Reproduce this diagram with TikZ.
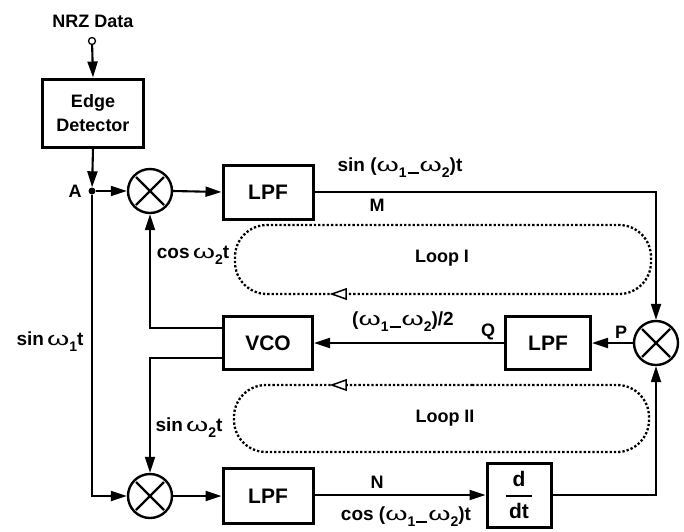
\documentclass[tikz,border=0pt]{standalone}
\usepackage{fontspec}
\usepackage{amsmath}
\usepackage{graphicx}
\setmainfont{Liberation Sans}
\usetikzlibrary{arrows.meta,calc}
\newcommand\wo{\scalebox{1.5}[1]{\mdseries ω}}
\newcommand\sbs[1]{\raisebox{-6pt}{\fontsize{14}{14}\selectfont\bfseries #1}}
\newcommand\mn{\hspace{1pt}\rule[3.5pt]{11pt}{2.2pt}\hspace{1pt}}
\begin{document}
\begin{tikzpicture}[x=1pt,y=-1pt,
  txt/.style={font=\fontsize{19}{22}\selectfont\bfseries,inner sep=0pt},
  let/.style={font=\fontsize{18}{20}\selectfont\bfseries,inner sep=0pt},
  box/.style={draw,line width=3pt,inner sep=0pt,align=center,font=\fontsize{21}{24}\selectfont\bfseries},
  mixer/.style={draw,circle,line width=2.4pt,minimum size=44pt,inner sep=0pt,
    path picture={\draw[line width=2.2pt]
      ($(path picture bounding box.center)+(-14pt,-14pt)$) -- ($(path picture bounding box.center)+(14pt,14pt)$)
      ($(path picture bounding box.center)+(-14pt,14pt)$) -- ($(path picture bounding box.center)+(14pt,-14pt)$);}},
  wire/.style={line width=2.1pt},
  arr/.style={wire,-{Triangle[length=16pt,width=10pt]}},
  loopline/.style={line width=2.3pt,dash pattern=on 2.3pt off 2pt,rounded corners=32pt},
  looparrow/.style={draw,fill=white,line width=1.5pt},
]
\useasboundingbox (0,0) rectangle (684,531);

% nodes
\node[draw,circle,line width=1.3pt,minimum size=7pt,inner sep=0pt] (nrz) at (92,41) {};
\node[let] (nrzlbl) at (93,21) {NRZ Data};
\node[box,minimum width=101pt,minimum height=68pt,font=\fontsize{18}{24}\selectfont\bfseries] (ed) at (93,113) {Edge\\Detector};
\node[circle,fill,minimum size=7pt,inner sep=0pt] (A) at (92,191) {};
\node[let] (Albl) at (75,191) {A};
\node[mixer] (m1) at (150,191) {};
\node[box,minimum width=90pt,minimum height=54pt] (lpf1) at (268,192) {LPF};
\node[mixer] (m2) at (656,343) {};
\node[box,minimum width=85pt,minimum height=53pt] (lpf2) at (548,343) {LPF};
\node[box,minimum width=89pt,minimum height=53pt] (vco) at (268,343) {VCO};
\node[mixer] (m3) at (150,496) {};
\node[box,minimum width=90pt,minimum height=55pt] (lpf3) at (268,496) {LPF};
\node[box,minimum width=64pt,minimum height=64pt] (ddt) at (519,495) {$\genfrac{}{}{2pt}{0}{\mbox{\bfseries d}}{\mbox{\bfseries\,dt\,}}$};

\coordinate (c1) at (656,192);
\coordinate (v1) at (223,328);
\coordinate (v1b) at (150,328);
\coordinate (v2) at (223,358);
\coordinate (v2b) at (150,358);
\coordinate (a2) at (92,496);
\coordinate (d2) at (656,495);

% connectors
\draw[arr] (nrz) -- (ed.north);
\draw[arr] (ed.south) -- (A);
\draw[arr] (A) -- (m1.west);
\draw[arr] (m1.east) -- (lpf1.west);
\draw[arr] (lpf1.east) -- (c1) -- (m2.north);
\draw[arr] (m2.west) -- (lpf2.east);
\draw[arr] (lpf2.west) -- (vco.east);
\draw[arr] (v1) -- (v1b) -- (m1.south);
\draw[arr] (v2) -- (v2b) -- (m3.north);
\draw[arr] (A) -- (a2) -- (m3.west);
\draw[arr] (m3.east) -- (lpf3.west);
\draw[arr] (lpf3.east |- ddt.west) -- (ddt.west);
\draw[arr] (ddt.east) -- (d2) -- (m2.south);

% loops
\draw[loopline] (440,225) -- (651,225) -- (651,294) -- (235,294) -- (235,225) -- cycle;
\draw[looparrow] (332,294) -- (346,289) -- (346,299) -- cycle;
\node[let] (loop1) at (442,258) {Loop I};
\draw[loopline] (440,385) -- (649,385) -- (649,452) -- (234,452) -- (234,385) -- cycle;
\draw[looparrow] (332,385) -- (346,380) -- (346,390) -- cycle;
\node[let] (loop2) at (445,418) {Loop II};

% labels
\node[txt] (l1) at (400,168) {sin (\wo\sbs{1\mn}\wo\sbs{2})t};
\node[let] (lM) at (377,205) {M};
\node[txt] (l2) at (193,255) {cos\,\wo\sbs{2}t};
\node[txt] (l3) at (403,322) {(\wo\sbs{1\mn}\wo\sbs{2})/2};
\node[let] (lQ) at (488,332) {Q};
\node[let] (lP) at (621,332) {P};
\node[txt] (l4) at (50,342) {sin\,\wo\sbs{1}t};
\node[txt] (l5) at (189,428) {sin\,\wo\sbs{2}t};
\node[let] (lN) at (377,482) {N};
\node[txt] (l6) at (406,517) {cos (\wo\sbs{1\mn}\wo\sbs{2})t};
\end{tikzpicture}
\end{document}
